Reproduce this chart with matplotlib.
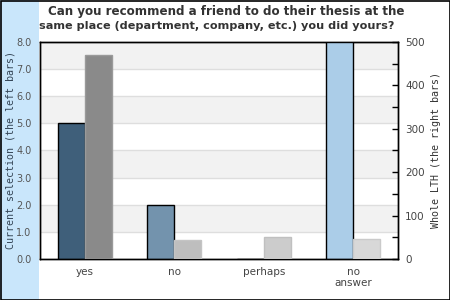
import matplotlib
matplotlib.use("Agg")
import matplotlib.pyplot as plt
from matplotlib.patches import Rectangle
import numpy as np

categories = ["yes", "no", "perhaps", "no\nanswer"]
current_values = [5.0, 2.0, 0.0, 9.0]
whole_values = [470, 44, 50, 46]
left_colors = ["#3f5f7a", "#7393ad", "#8fb0cc", "#abcde8"]
right_colors = ["#8a8a8a", "#bebebe", "#cccccc", "#d8d8d8"]
right_edges = ["#9a9a9a", "#c4c4c4", "#c0c0c0", "#cacaca"]
left_ticks = [0, 1, 2, 3, 4, 5, 6, 7, 8]
right_ticks = [0, 100, 200, 300, 400, 500]

W, H = 450, 300
fig = plt.figure(figsize=(4.5, 3), dpi=100)
fig.patch.set_facecolor("white")
fig.patches.append(Rectangle((0, 0), 39 / W, 1, transform=fig.transFigure,
                             facecolor="#c9e6fb", edgecolor="none", zorder=-5))
fig.patches.append(Rectangle((0.5 / W, 0.5 / H), (W - 1) / W, (H - 1.5) / H,
                             transform=fig.transFigure, facecolor="none",
                             edgecolor="black", lw=1.2, zorder=10))

left, right, top, bottom = 40, 398, 42, 259
ax = fig.add_axes([left / W, 1 - bottom / H, (right - left) / W, (bottom - top) / H])
ax.set_xlim(0, 4)
ax.set_ylim(0, 8)
for lo in [1, 3, 5, 7]:
    ax.axhspan(lo, lo + 1, color="#f2f2f2", zorder=0, lw=0)
for y in range(1, 8):
    ax.axhline(y, color="#dedede", lw=1, zorder=0.5)

x = np.arange(len(categories)) + 0.5
bw = 0.30
ax.bar(x - bw / 2, current_values, width=bw, color=left_colors,
       edgecolor="black", linewidth=1, zorder=3)
ax.set_xticks(x)
ax.set_xticklabels(categories, fontsize=7.5, color="#444444", linespacing=1.1)
ax.tick_params(axis="x", length=0, pad=6)
ax.set_yticks(left_ticks)
ax.set_yticklabels([f"{v:.1f}" for v in left_ticks], fontsize=7, color="#555555")
ax.tick_params(axis="y", length=0, pad=6)
ax.set_ylabel("Current selection (the left bars)", family="DejaVu Sans Mono",
              fontsize=7.2, color="#334455")
ax.yaxis.set_label_coords((15.5 - left) / (right - left), 0.5)
for s in ax.spines.values():
    s.set_color("black")
    s.set_linewidth(1)

ax2 = ax.twinx()
ax2.set_ylim(0, 500)
ax2.bar(x + bw / 2, whole_values, width=bw, color=right_colors,
        edgecolor=right_edges, linewidth=1, zorder=3)
ax2.set_yticks(right_ticks)
ax2.set_yticklabels([str(v) for v in right_ticks], fontsize=7.5, color="#444444")
ax2.set_yticks(np.arange(50, 500, 100), minor=True)
ax2.tick_params(axis="y", which="both", direction="in", length=4, width=1,
                color="black", pad=5)
ax2.set_ylabel("Whole LTH (the right bars)", family="DejaVu Sans Mono",
               fontsize=7.2, color="#333333")
ax2.yaxis.set_label_coords((431 - left) / (right - left), 0.5)
for s in ax2.spines.values():
    s.set_color("black")
    s.set_linewidth(1)

fig.text(226 / W, 1 - 12 / H, "Can you recommend a friend to do their thesis at the",
         ha="center", va="center", fontsize=8.6, fontweight="bold", color="#333333")
fig.text(216.5 / W, 1 - 26 / H, "same place (department, company, etc.) you did yours?",
         ha="center", va="center", fontsize=8.1, fontweight="bold", color="#333333")

fig.savefig("out.png", dpi=100)
